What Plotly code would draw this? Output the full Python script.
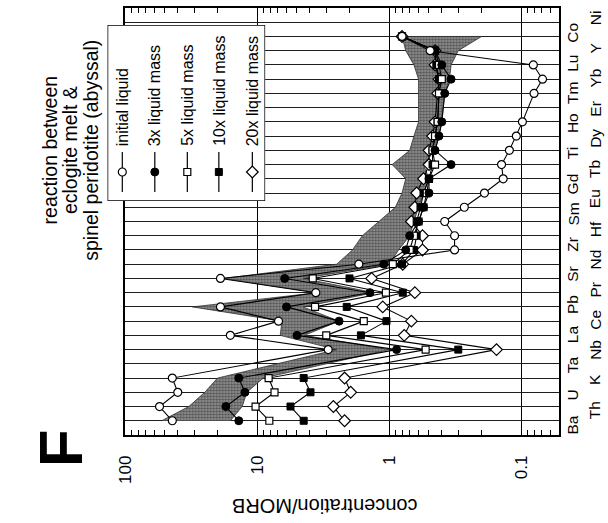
import plotly.graph_objects as go

W, H = 608, 523

# ---------------- data ----------------
elements = ["Ba", "Th", "U", "K", "Ta", "Nb", "La", "Ce", "Pb", "Pr", "Sr", "Nd", "Zr", "Hf",
            "Sm", "Eu", "Gd", "Tb", "Ti", "Dy", "Ho", "Er", "Tm", "Yb", "Lu", "Y", "Co", "Ni"]

initial_liquid = [44, 55, 40, 44, None, 2.9, 16, 6.9, 19, 3.6, 19, 1.7, 0.32, 0.32,
                  0.38, 0.27, 0.19, 0.137, 0.141, 0.123, 0.109, 0.098, None, 0.08, 0.069, 0.081, 0.49, 0.8]
liq_3x = [13.8, 17.3, 12.4, 13.8, None, 0.88, 5.0, 2.4, 6.0, 1.4, 6.2, 1.1, 0.75, 0.7,
          0.6, 0.55, 0.5, 0.5, 0.34, 0.45, 0.42, 0.4, None, 0.38, 0.34, 0.4, 0.45, 0.8]
liq_5x = [8.1, 10.3, 7.4, 8.2, None, 0.53, 3.0, 1.56, 3.65, 1.06, 3.8, 0.94, 0.7, 0.65,
          0.6, 0.55, 0.52, 0.5, 0.45, 0.47, 0.45, 0.43, None, 0.42, 0.4, 0.42, 0.45, 0.8]
liq_10x = [4.45, 5.6, 3.95, 4.45, None, 0.30, 1.64, 1.05, 2.1, 0.79, 2.0, 0.8, 0.65, 0.62,
           0.62, 0.58, 0.55, 0.5, 0.47, 0.47, 0.45, 0.43, None, 0.42, 0.42, 0.44, 0.45, 0.8]
liq_20x = [2.18, 2.65, 1.96, 2.18, None, 0.154, 0.77, 0.68, 1.12, 0.64, 1.36, 0.79, 0.56, 0.56,
           0.68, 0.64, 0.62, 0.55, 0.5, 0.5, 0.47, 0.45, None, 0.43, 0.42, 0.45, 0.45, 0.8]

band_high = [53, 33, 25, 20, None, 2.5, 6.7, 6.5, 31, 3.5, 18, 2.5, 1.9, 1.6,
             1.2, 0.9, 0.8, 0.75, 0.95, 0.7, 0.65, 0.6, None, 0.6, 0.6, 0.65, 0.75, 0.8]
band_low = [16, 13, 12, 9, None, 1.0, 4.4, 2.4, 4.5, 1.3, 4.5, 1.0, 0.85, 0.7,
            0.65, 0.6, 0.55, 0.5, 0.55, 0.45, 0.42, 0.4, None, 0.38, 0.35, 0.34, 0.3, 0.2]

series_names = ["initial liquid", "3x liquid mass", "5x liquid mass", "10x liquid mass", "20x liquid mass"]
series_values = [initial_liquid, liq_3x, liq_5x, liq_10x, liq_20x]

tick_vals = [100, 10, 1, 0.1]
tick_text = ["100", "10", "1", "0.1"]

# ---------------- styles ----------------
marker_styles = [
    dict(symbol="circle", color="white", size=8, line=dict(color="black", width=1.2)),
    dict(symbol="circle", color="black", size=8, line=dict(color="black", width=1)),
    dict(symbol="square", color="white", size=7, line=dict(color="black", width=1.2)),
    dict(symbol="square", color="black", size=7, line=dict(color="black", width=1)),
    dict(symbol="diamond", color="white", size=9, line=dict(color="black", width=1.2)),
]
FONT = "Liberation Sans, Arial, Helvetica, sans-serif"


def px_x(px):
    return px / W


def px_y(py):
    return 1 - py / H


fig = go.Figure()

# shaded (stippled) band
idx = list(range(len(elements)))
bx = [band_high[i] for i in idx if band_high[i] is not None] + \
     [band_low[i] for i in reversed(idx) if band_low[i] is not None]
by = [i for i in idx if band_high[i] is not None] + \
     [i for i in reversed(idx) if band_low[i] is not None]
fig.add_trace(go.Scatter(x=bx, y=by, mode="lines", fill="toself",
                         fillcolor="rgb(130,130,130)",
                         fillpattern=dict(shape=".", fgcolor="rgb(20,20,20)", bgcolor="rgb(150,150,150)",
                                          size=3, solidity=0.5),
                         line=dict(color="rgb(50,50,50)", width=0.8),
                         hoverinfo="skip", showlegend=False, xaxis="x", yaxis="y"))

# series (drawn from most-diluted to initial so initial sits on top)
for name, vals, ms in reversed(list(zip(series_names, series_values, marker_styles))):
    fig.add_trace(go.Scatter(x=vals, y=idx, mode="lines+markers", name=name,
                             connectgaps=True, line=dict(color="black", width=1.1),
                             marker=ms, showlegend=False, xaxis="x", yaxis="y"))

# ---------------- custom legend (own subplot) ----------------
fig.add_trace(go.Scatter(x=[0, 1, 1, 0, 0], y=[0, 0, 1, 1, 0], mode="lines", fill="toself",
                         fillcolor="white", line=dict(color="black", width=1.5),
                         hoverinfo="skip", showlegend=False, xaxis="x2", yaxis="y2"))
leg_x = [(115 - 100) / 160, (148 - 100) / 160, (181 - 100) / 160, (213 - 100) / 160, (247 - 100) / 160]
leg_line_top = (201 - 152) / 176
leg_line_bot = (201 - 192) / 176
leg_marker = (201 - 172) / 176
leg_text_bottom = (201 - 148) / 176
annotations = []
for lx, name, ms in zip(leg_x, series_names, marker_styles):
    fig.add_trace(go.Scatter(x=[lx, lx], y=[leg_line_bot, leg_line_top], mode="lines",
                             line=dict(color="black", width=1.2), hoverinfo="skip",
                             showlegend=False, xaxis="x2", yaxis="y2"))
    fig.add_trace(go.Scatter(x=[lx], y=[leg_marker], mode="markers", marker=ms,
                             hoverinfo="skip", showlegend=False, xaxis="x2", yaxis="y2"))
    annotations.append(dict(x=lx, y=leg_text_bottom, xref="x2", yref="y2", text=name,
                            textangle=-90, showarrow=False, xanchor="center", yanchor="bottom",
                            font=dict(family=FONT, size=16, color="black")))

# element labels (staggered in two columns, typeset at a slightly wider pitch than the rows)
label_base, label_pitch = -0.30, 1.059
for i, el in enumerate(elements):
    annotations.append(dict(x=px_x(572 if i % 2 == 0 else 595), y=label_base + i * label_pitch,
                            xref="paper", yref="y",
                            text=el, textangle=-90, showarrow=False, xanchor="center",
                            yanchor="middle", font=dict(family=FONT, size=15.5, color="black")))

# title lines
for txt, px in [("reaction between", 42), ("eclogite melt &amp;", 62), ("spinel peridotite (abyssal)", 83)]:
    annotations.append(dict(x=px_x(px), y=px_y(150), xref="paper", yref="paper", text=txt,
                            textangle=-90, showarrow=False, xanchor="center", yanchor="middle",
                            font=dict(family=FONT, size=19.5, color="black")))

# panel letter
annotations.append(dict(x=px_x(52), y=px_y(448), xref="paper", yref="paper", text="<b>F</b>",
                        textangle=-90, showarrow=False, xanchor="center", yanchor="middle",
                        font=dict(family=FONT, size=62, color="black")))

# axis title (upside down)
annotations.append(dict(x=px_x(320), y=px_y(506), xref="paper", yref="paper",
                        text="concentration/MORB", textangle=180, showarrow=False,
                        xanchor="center", yanchor="middle",
                        font=dict(family=FONT, size=20, color="black")))

minor_vals = [m * 10 ** e for e in (-2, -1, 0, 1) for m in range(2, 10) if m * 10 ** e > 0.052]

fig.update_layout(
    width=W, height=H,
    margin=dict(l=0, r=0, t=0, b=0),
    paper_bgcolor="white", plot_bgcolor="white",
    showlegend=False,
    xaxis=dict(type="log", range=[2, -1.284], domain=[118 / W, 558 / W],
               tickvals=tick_vals, ticktext=tick_text, tickangle=-90,
               tickfont=dict(family=FONT, size=17, color="black"),
               ticks="inside", ticklen=8, tickcolor="black",
               showgrid=True, gridcolor="black", gridwidth=1,
               showline=True, linecolor="black", linewidth=1.5, mirror="allticks",
               ticklabelstandoff=12,
               minor=dict(tickvals=minor_vals, ticks="inside", ticklen=5, tickcolor="black",
                          showgrid=False),
               zeroline=False, anchor="y"),
    yaxis=dict(range=[-1, 29], domain=[1 - 435 / H, 1 - 8 / H],
               tickvals=list(range(-1, 29)), showticklabels=False, ticks="",
               showgrid=True, gridcolor="rgb(30,30,30)", gridwidth=1,
               showline=True, linecolor="black", linewidth=1.5, mirror=True,
               zeroline=False, anchor="x"),
    xaxis2=dict(range=[0, 1], domain=[100 / W, 260 / W], visible=False, anchor="y2",
                fixedrange=True),
    yaxis2=dict(range=[0, 1], domain=[1 - 201 / H, 1 - 25 / H], visible=False, anchor="x2",
                fixedrange=True),
    annotations=annotations,
)

fig.write_html("out.html")
